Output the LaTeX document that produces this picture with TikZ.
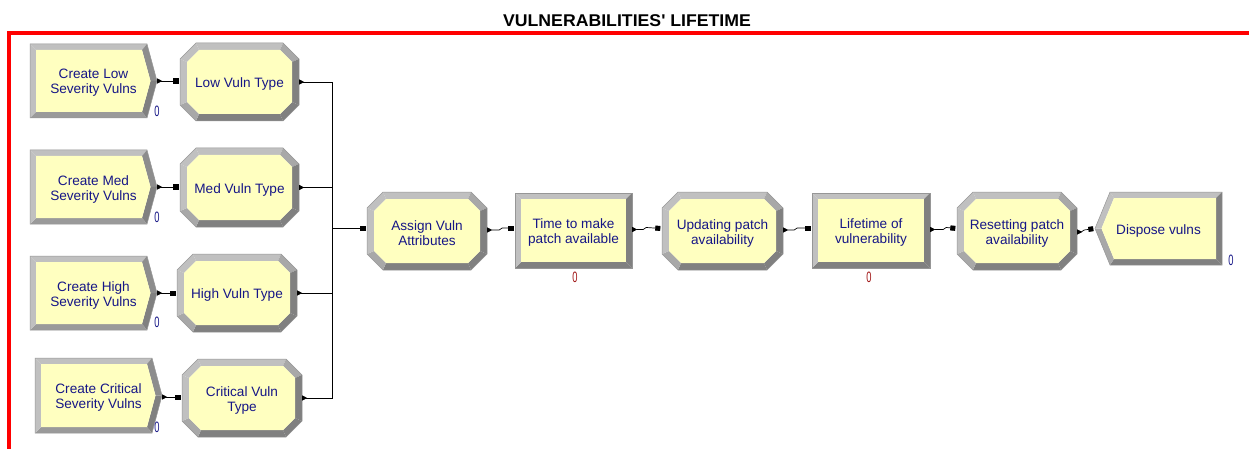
\documentclass[tikz,border=0pt]{standalone}
\usepackage{fontspec}
\setmainfont{Liberation Sans}
\usetikzlibrary{arrows.meta,calc}
\definecolor{modfill}{RGB}{255,255,192}
\definecolor{bvlight}{RGB}{192,192,192}
\definecolor{bvmid}{RGB}{168,168,168}
\definecolor{bvdark}{RGB}{128,128,128}
\definecolor{bvline}{RGB}{150,150,150}
\definecolor{modtext}{RGB}{22,22,135}
\definecolor{cntred}{RGB}{160,20,20}
\definecolor{frame}{RGB}{255,0,0}
\tikzset{
  mod/.style={draw=none, inner sep=0pt},
  modtxt/.style={inner sep=0pt, align=center, text=modtext, yshift=-2pt,
    font=\fontsize{13.6}{15}\selectfont},
  cntblue/.style={text=modtext, inner sep=0pt, xscale=0.62,
    font=\fontsize{15}{15}\selectfont},
  cntr/.style={text=cntred, inner sep=0pt, xscale=0.62,
    font=\fontsize{15}{15}\selectfont},
  conn/.style={draw=black, line width=0.7pt,
    {Triangle[reversed,length=5pt,width=5pt]}-{Square[length=5pt,width=5pt]},
    shorten >=1.5pt},
  busline/.style={draw=black, line width=0.7pt},
  busstart/.style={busline, {Triangle[reversed,length=5pt,width=5pt]}-},
  busend/.style={busline, -{Square[length=5pt,width=5pt]}, shorten >=1.5pt},
}
% octagon module bevel
\newcommand\octshape[4]{%
  \coordinate (o1) at ({#1+16},{#2});
  \coordinate (o2) at ({#3-16},{#2});
  \coordinate (o3) at ({#3},{#2+16});
  \coordinate (o4) at ({#3},{#4-16});
  \coordinate (o5) at ({#3-16},{#4});
  \coordinate (o6) at ({#1+16},{#4});
  \coordinate (o7) at ({#1},{#4-16});
  \coordinate (o8) at ({#1},{#2+16});
  \coordinate (i1) at ({#1+19},{#2+7});
  \coordinate (i2) at ({#3-19},{#2+7});
  \coordinate (i3) at ({#3-7},{#2+19});
  \coordinate (i4) at ({#3-7},{#4-19});
  \coordinate (i5) at ({#3-19},{#4-7});
  \coordinate (i6) at ({#1+19},{#4-7});
  \coordinate (i7) at ({#1+7},{#4-19});
  \coordinate (i8) at ({#1+7},{#2+19});
  \fill[bvlight] (o1)--(o2)--(i2)--(i1)--cycle;
  \fill[bvmid] (o2)--(o3)--(i3)--(i2)--cycle;
  \fill[bvdark] (o3)--(o4)--(i4)--(i3)--cycle;
  \fill[bvdark] (o4)--(o5)--(i5)--(i4)--cycle;
  \fill[bvdark] (o5)--(o6)--(i6)--(i5)--cycle;
  \fill[bvmid] (o6)--(o7)--(i7)--(i6)--cycle;
  \fill[bvlight] (o7)--(o8)--(i8)--(i7)--cycle;
  \fill[bvlight] (o8)--(o1)--(i1)--(i8)--cycle;
  \fill[modfill] (i1)--(i2)--(i3)--(i4)--(i5)--(i6)--(i7)--(i8)--cycle;
  \draw[bvline, line width=0.5pt] (o1)--(o2)--(o3)--(o4)--(o5)--(o6)--(o7)--(o8)--cycle;
}
% create module (pointed right)
\newcommand\crshape[4]{%
  \coordinate (o1) at ({#1},{#2});
  \coordinate (o2) at ({#3-10},{#2});
  \coordinate (o3) at ({#3},{(#2+#4)/2});
  \coordinate (o4) at ({#3-10},{#4});
  \coordinate (o5) at ({#1},{#4});
  \coordinate (i1) at ({#1+6},{#2+6});
  \coordinate (i2) at ({#3-15},{#2+6});
  \coordinate (i3) at ({#3-6.5},{(#2+#4)/2});
  \coordinate (i4) at ({#3-15},{#4-6});
  \coordinate (i5) at ({#1+6},{#4-6});
  \fill[bvlight] (o1)--(o2)--(i2)--(i1)--cycle;
  \fill[bvdark!90!white] (o2)--(o3)--(i3)--(i2)--cycle;
  \fill[bvdark] (o3)--(o4)--(i4)--(i3)--cycle;
  \fill[bvdark!80!white] (o4)--(o5)--(i5)--(i4)--cycle;
  \fill[bvlight] (o5)--(o1)--(i1)--(i5)--cycle;
  \fill[modfill] (i1)--(i2)--(i3)--(i4)--(i5)--cycle;
  \draw[bvline, line width=0.5pt] (o1)--(o2)--(o3)--(o4)--(o5)--cycle;
}
% rectangular process module
\newcommand\rectshape[4]{%
  \coordinate (o1) at ({#1},{#2});
  \coordinate (o2) at ({#3},{#2});
  \coordinate (o3) at ({#3},{#4});
  \coordinate (o4) at ({#1},{#4});
  \coordinate (i1) at ({#1+6},{#2+6});
  \coordinate (i2) at ({#3-6},{#2+6});
  \coordinate (i3) at ({#3-6},{#4-6});
  \coordinate (i4) at ({#1+6},{#4-6});
  \fill[bvlight] (o1)--(o2)--(i2)--(i1)--cycle;
  \fill[bvdark] (o2)--(o3)--(i3)--(i2)--cycle;
  \fill[bvdark] (o3)--(o4)--(i4)--(i3)--cycle;
  \fill[bvlight] (o4)--(o1)--(i1)--(i4)--cycle;
  \fill[modfill] (i1)--(i2)--(i3)--(i4)--cycle;
  \draw[bvline, line width=0.5pt] (o1)--(o2)--(o3)--(o4)--cycle;
}
% dispose module (notched left)
\newcommand\dispshape[4]{%
  \coordinate (o1) at ({#1+15},{#2});
  \coordinate (o2) at ({#3},{#2});
  \coordinate (o3) at ({#3},{#4});
  \coordinate (o4) at ({#1+15},{#4});
  \coordinate (o5) at ({#1},{(#2+#4)/2});
  \coordinate (i1) at ({#1+19},{#2+6});
  \coordinate (i2) at ({#3-6},{#2+6});
  \coordinate (i3) at ({#3-6},{#4-6});
  \coordinate (i4) at ({#1+19},{#4-6});
  \coordinate (i5) at ({#1+6.5},{(#2+#4)/2});
  \fill[bvlight] (o1)--(o2)--(i2)--(i1)--cycle;
  \fill[bvdark] (o2)--(o3)--(i3)--(i2)--cycle;
  \fill[bvdark] (o3)--(o4)--(i4)--(i3)--cycle;
  \fill[bvmid] (o4)--(o5)--(i5)--(i4)--cycle;
  \fill[bvlight] (o5)--(o1)--(i1)--(i5)--cycle;
  \fill[modfill] (i1)--(i2)--(i3)--(i4)--(i5)--cycle;
  \draw[bvline, line width=0.5pt] (o1)--(o2)--(o3)--(o4)--(o5)--cycle;
}
\begin{document}
\begin{tikzpicture}[x=1pt,y=-1pt]
\useasboundingbox (0,0) rectangle (1249,449);
\fill[white] (0,0) rectangle (1249,449);
\begin{scope}
\clip (0,0) rectangle (1249,449);
\draw[frame, line width=4pt] (9,33) rectangle (1250.5,470);
\end{scope}
\node[anchor=base, inner sep=0pt, xscale=1.04, font=\fontsize{17}{17}\selectfont\bfseries] (title) at (627,27) {VULNERABILITIES\textquotesingle\ LIFETIME};

% shapes
\crshape{30}{44}{157}{118}
\crshape{30}{150}{157}{224}
\crshape{30}{256}{157}{330}
\crshape{35}{358}{162}{433}
\octshape{180}{43}{299}{121}
\octshape{180}{148}{299}{227}
\octshape{177}{254}{297}{332}
\octshape{182}{359}{302}{437}
\octshape{367}{192}{487}{270}
\rectshape{515}{193}{632}{268}
\octshape{662}{192}{783}{270}
\rectshape{812}{193}{930}{268}
\octshape{957}{192}{1077}{270}
\dispshape{1095}{192}{1222}{265}

% nodes
\node[mod, minimum width=127pt, minimum height=74pt, label={[modtxt]center:Create Low\\Severity Vulns}] (crLow) at (93.5,81) {};
\node[mod, minimum width=127pt, minimum height=74pt, label={[modtxt]center:Create Med\\Severity Vulns}] (crMed) at (93.5,187) {};
\node[mod, minimum width=127pt, minimum height=74pt, label={[modtxt]center:Create High\\Severity Vulns}] (crHigh) at (93.5,293) {};
\node[mod, minimum width=127pt, minimum height=75pt, label={[modtxt]center:Create Critical\\Severity Vulns}] (crCrit) at (98.5,395.5) {};
\node[mod, minimum width=119pt, minimum height=78pt, label={[modtxt]center:Low Vuln Type}] (lowT) at (239.5,82) {};
\node[mod, minimum width=119pt, minimum height=79pt, label={[modtxt]center:Med Vuln Type}] (medT) at (239.5,187.5) {};
\node[mod, minimum width=120pt, minimum height=78pt, label={[modtxt]center:High Vuln Type}] (highT) at (237,293) {};
\node[mod, minimum width=120pt, minimum height=78pt, label={[modtxt]center:Critical Vuln\\Type}] (critT) at (242,398) {};
\node[mod, minimum width=120pt, minimum height=78pt, label={[modtxt]center:Assign Vuln\\Attributes}] (assign) at (427,231) {};
\node[mod, minimum width=117pt, minimum height=75pt, label={[modtxt]center:Time to make\\patch available}] (patch) at (573.5,230.5) {};
\node[mod, minimum width=121pt, minimum height=78pt, label={[modtxt]center:Updating patch\\availability}] (upd) at (722.5,231) {};
\node[mod, minimum width=118pt, minimum height=75pt, label={[modtxt]center:Lifetime of\\vulnerability}] (life) at (871,230.5) {};
\node[mod, minimum width=120pt, minimum height=78pt, label={[modtxt]center:Resetting patch\\availability}] (reset) at (1017,231) {};
\node[mod, minimum width=127pt, minimum height=73pt, label={[modtxt]center:Dispose vulns}] (disp) at (1158.5,228.5) {};

% counters
\node[cntblue] (c1) at (157,111.5) {0};
\node[cntblue] (c2) at (157,217) {0};
\node[cntblue] (c3) at (157,322.5) {0};
\node[cntblue] (c4) at (157,427.5) {0};
\node[cntr] (c5) at (575,277.5) {0};
\node[cntr] (c6) at (869,277.5) {0};
\node[cntblue] (c7) at (1231,260.5) {0};

% connectors: create -> type
\draw[conn] (crLow.east) -- (crLow.east -| lowT.west);
\draw[conn] (crMed.east) -- (crMed.east -| medT.west);
\draw[conn] (crHigh.east) -- (crHigh.east -| highT.west);
\draw[conn] ([yshift=-1.5pt]crCrit.east) -- ([yshift=-1.5pt]crCrit.east -| critT.west);

% bus
\coordinate (bus) at (332,228.5);
\draw[busstart] (lowT.east) -| (bus);
\draw[busstart] (medT.east) -| (bus);
\draw[busstart] (highT.east) -| (bus);
\draw[busstart] (critT.east) -| (bus);
\draw[busend] (bus) -- (bus -| assign.west);

% chain
\draw[conn] ([yshift=1pt]assign.east) -- ++(12,0) -- ++(3,-2) -- ([yshift=2.5pt]patch.west);
\draw[conn] ([yshift=1pt]patch.east) -- ++(11,0) -- ++(3,-2) -- ([yshift=2.5pt]upd.west);
\draw[conn] ([yshift=1pt]upd.east) -- ++(11,0) -- ++(3,-2) -- ([yshift=2.5pt]life.west);
\draw[conn] ([yshift=1pt]life.east) -- ++(13,0) -- ++(3,-2) -- ([yshift=2.5pt]reset.west);
\draw[conn] ([yshift=-1pt]reset.east) -- ++(4,0) -- ++(3,-2) -- (disp.west);
\end{tikzpicture}
\end{document}
